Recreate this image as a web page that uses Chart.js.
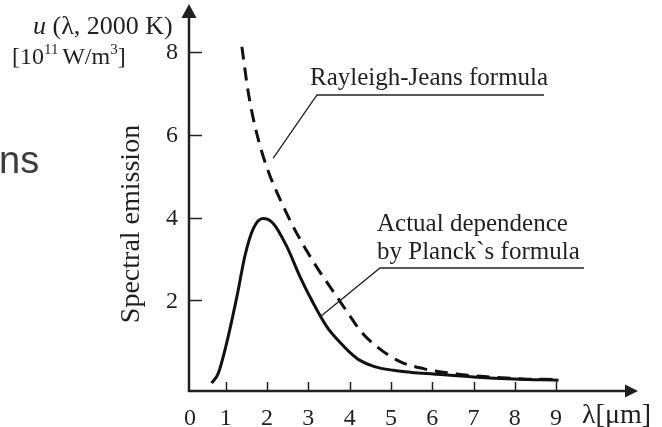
<!DOCTYPE html>
<html>
<head>
<meta charset="utf-8">
<script src="https://cdn.jsdelivr.net/npm/chart.js@4/dist/chart.umd.min.js"></script>
<style>
  html, body { margin: 0; padding: 0; background: #fff; }
  #wrap { position: relative; width: 662px; height: 427px; }
</style>
</head>
<body>
<div id="wrap"><canvas id="c" width="662" height="427"></canvas></div>
<script>
// wavelength [um] and spectral emission [10^11 W/m^3]
const planckX = [0.66, 0.82, 1.02, 1.27, 1.47, 1.67, 1.90, 2.15, 2.48, 2.80, 3.12, 3.45, 3.77, 4.01, 4.25, 4.6, 5.06, 5.5, 6.03, 7.0, 7.97, 9.06];
const planckY = [0.0, 0.24, 0.96, 2.09, 3.10, 3.74, 3.98, 3.86, 3.30, 2.57, 1.93, 1.36, 0.98, 0.74, 0.55, 0.40, 0.31, 0.26, 0.22, 0.15, 0.10, 0.07];
const rjX = [1.39, 1.55, 1.75, 1.99, 2.40, 2.72, 3.20, 3.69, 4.01, 4.25, 4.66, 5.22, 5.79, 6.6, 7.4, 8.2, 8.93];
const rjY = [8.13, 7.0, 6.04, 5.23, 4.26, 3.62, 2.81, 2.09, 1.62, 1.28, 0.88, 0.52, 0.35, 0.22, 0.15, 0.10, 0.09];
const xTicks = [1, 2, 3, 4, 5, 6, 7, 8, 9];
const xTickLabels = ['1', '2', '3', '4', '5', '6', '7', '8', '9'];
const yTicks = [2, 4, 6, 8];
const yTickLabels = ['2', '4', '6', '8'];

const ink = '#231f20';
const serif = '"Liberation Serif", "Times New Roman", serif';

function toPoints(xs, ys) {
  return xs.map((x, i) => ({ x: x, y: ys[i] }));
}

// draws the arrowed axes, ticks, labels and annotations
const decorPlugin = {
  id: 'decor',
  afterDatasetsDraw(chart) {
    const ctx = chart.ctx;
    const xs = chart.scales.x;
    const ys = chart.scales.y;
    const a = chart.chartArea;
    const ax = a.left, ay = a.bottom;

    ctx.save();
    ctx.strokeStyle = ink;
    ctx.fillStyle = ink;
    ctx.lineWidth = 2.5;

    // y axis + arrow
    ctx.beginPath();
    ctx.moveTo(ax, ay + 1);
    ctx.lineTo(ax, a.top + 10);
    ctx.stroke();
    ctx.beginPath();
    ctx.moveTo(ax, a.top - 1);
    ctx.lineTo(ax - 7.5, a.top + 13);
    ctx.lineTo(ax + 7.5, a.top + 13);
    ctx.closePath();
    ctx.fill();

    // x axis + arrow
    ctx.beginPath();
    ctx.moveTo(ax - 1, ay);
    ctx.lineTo(a.right, ay);
    ctx.stroke();
    ctx.beginPath();
    ctx.moveTo(a.right + 8, ay);
    ctx.lineTo(a.right - 5, ay - 6.5);
    ctx.lineTo(a.right - 5, ay + 6.5);
    ctx.closePath();
    ctx.fill();

    // ticks
    ctx.lineWidth = 1.5;
    yTicks.forEach(v => {
      const py = Math.round(ys.getPixelForValue(v)) + 0.5;
      ctx.beginPath();
      ctx.moveTo(ax, py);
      ctx.lineTo(ax + 13, py);
      ctx.stroke();
    });
    xTicks.forEach(v => {
      const px = Math.round(xs.getPixelForValue(v)) + 0.5;
      ctx.beginPath();
      ctx.moveTo(px, ay);
      ctx.lineTo(px, ay - 9);
      ctx.stroke();
    });

    // tick labels
    ctx.font = '24px ' + serif;
    ctx.textAlign = 'right';
    ctx.textBaseline = 'middle';
    yTicks.forEach((v, i) => {
      ctx.fillText(yTickLabels[i], 178, ys.getPixelForValue(v) + 1);
    });
    ctx.textAlign = 'center';
    ctx.textBaseline = 'alphabetic';
    xTicks.forEach((v, i) => {
      ctx.fillText(xTickLabels[i], xs.getPixelForValue(v), 425);
    });
    ctx.fillText('0', 190, 425);

    // x axis title
    ctx.textAlign = 'left';
    ctx.font = '28px ' + serif;
    ctx.fillText('\u03bb[\u03bcm]', 582, 423);

    // y axis title (two lines)
    ctx.font = 'italic 26px ' + serif;
    let x = 33;
    ctx.fillText('u', x, 34);
    x += ctx.measureText('u ').width;
    ctx.font = '26px ' + serif;
    ctx.fillText('(\u03bb, 2000 K)', x, 34);

    x = 12;
    ctx.font = '24px ' + serif;
    ctx.fillText('[10', x, 64);
    x += ctx.measureText('[10').width;
    ctx.font = '15px ' + serif;
    ctx.fillText('11', x, 54);
    x += ctx.measureText('11 ').width;
    ctx.font = '24px ' + serif;
    ctx.fillText('W/m', x, 64);
    x += ctx.measureText('W/m').width;
    ctx.font = '15px ' + serif;
    ctx.fillText('3', x, 54);
    x += ctx.measureText('3').width;
    ctx.font = '24px ' + serif;
    ctx.fillText(']', x, 64);

    // rotated label
    ctx.save();
    ctx.translate(139, 224);
    ctx.rotate(-Math.PI / 2);
    ctx.textAlign = 'center';
    ctx.font = '28px ' + serif;
    ctx.fillText('Spectral emission', 0, 0);
    ctx.restore();

    // annotations with leader lines
    ctx.font = '25px ' + serif;
    ctx.textAlign = 'left';
    ctx.fillText('Rayleigh-Jeans formula', 310, 85);
    ctx.fillText('Actual dependence', 377, 231);
    ctx.fillText('by Planck`s formula', 377, 259);

    ctx.lineWidth = 1.3;
    ctx.beginPath();
    ctx.moveTo(xs.getPixelForValue(2.15), ys.getPixelForValue(5.44));
    ctx.lineTo(317, 95);
    ctx.lineTo(544, 95);
    ctx.stroke();
    ctx.beginPath();
    ctx.moveTo(xs.getPixelForValue(3.28), ys.getPixelForValue(1.6));
    ctx.lineTo(380, 268);
    ctx.lineTo(584, 268);
    ctx.stroke();

    // leftover slide text at the left edge
    ctx.fillStyle = '#3c3c3c';
    ctx.font = '38px "Liberation Sans", Arial, sans-serif';
    ctx.fillText('ns', -1, 173);

    ctx.restore();
  }
};

new Chart(document.getElementById('c'), {
  type: 'scatter',
  data: {
    datasets: [
      {
        label: 'Planck',
        data: toPoints(planckX, planckY),
        showLine: true,
        borderColor: '#111',
        borderWidth: 3,
        pointRadius: 0,
        cubicInterpolationMode: 'monotone',
        fill: false
      },
      {
        label: 'Rayleigh-Jeans',
        data: toPoints(rjX, rjY),
        showLine: true,
        borderColor: '#111',
        borderWidth: 3,
        borderDash: [13, 8],
        pointRadius: 0,
        cubicInterpolationMode: 'monotone',
        fill: false
      }
    ]
  },
  options: {
    responsive: false,
    animation: false,
    layout: { padding: { left: 189, right: 32, top: 5, bottom: 36 } },
    plugins: { legend: { display: false }, tooltip: { enabled: false } },
    scales: {
      x: { type: 'linear', min: 0.11, max: 10.79, display: false },
      y: { type: 'linear', min: -0.19, max: 9.14, display: false }
    }
  },
  plugins: [decorPlugin]
});
</script>
</body>
</html>
